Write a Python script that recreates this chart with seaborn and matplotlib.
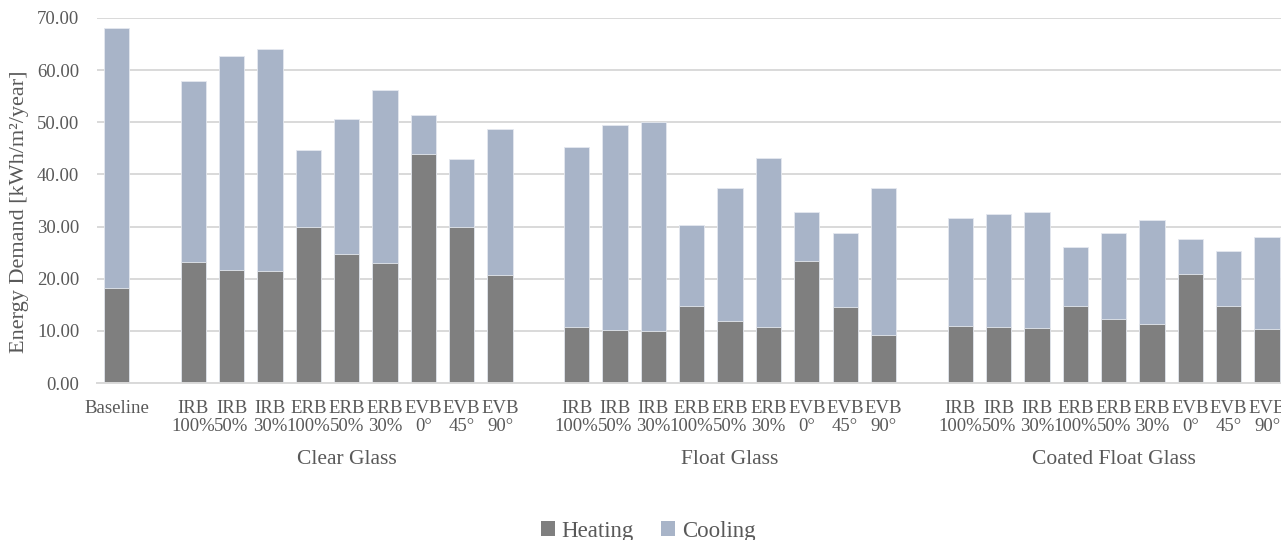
import matplotlib
matplotlib.use("Agg")
import matplotlib.pyplot as plt
from matplotlib.patches import Patch
from matplotlib.ticker import FuncFormatter
import numpy as np
import pandas as pd
import seaborn as sns

# ---- data (kWh/m²/year) ----
glass_types = ["Clear Glass", "Float Glass", "Coated Float Glass"]
configs = ["IRB\n100%", "IRB\n50%", "IRB\n30%", "ERB\n100%", "ERB\n50%",
           "ERB\n30%", "EVB\n0°", "EVB\n45°", "EVB\n90°"]

baseline_heating = 18.3
baseline_cooling = 49.7

heating_clear = [23.2, 21.7, 21.5, 29.9, 24.7, 23.0, 43.9, 29.9, 20.8]
cooling_clear = [34.8, 41.1, 42.6, 14.8, 26.0, 33.1, 7.5, 13.0, 27.9]

heating_float = [10.8, 10.1, 9.9, 14.8, 11.8, 10.8, 23.4, 14.5, 9.3]
cooling_float = [34.4, 39.4, 40.1, 15.5, 25.6, 32.3, 9.3, 14.2, 28.1]

heating_coated = [11.0, 10.8, 10.6, 14.7, 12.3, 11.3, 20.9, 14.7, 10.3]
cooling_coated = [20.7, 21.6, 22.1, 11.3, 16.4, 19.9, 6.7, 10.6, 17.7]

series_labels = ["Heating", "Cooling"]
heat_color = "#7f7f7f"
cool_color = "#a8b4c8"
text_color = "#595959"
grid_color = "#d9d9d9"

# ---- build the long table with a blank slot between groups ----
rows = [{"key": "Baseline", "label": "Baseline",
         "heating": baseline_heating, "cooling": baseline_cooling}]
order = ["Baseline"]
tick_labels = ["Baseline"]
group_centers = []
heat_groups = [heating_clear, heating_float, heating_coated]
cool_groups = [cooling_clear, cooling_float, cooling_coated]
for g, (gname, hv, cv) in enumerate(zip(glass_types, heat_groups, cool_groups)):
    order.append(f"_gap{g}")
    tick_labels.append("")
    start = len(order)
    for cfg, h, c in zip(configs, hv, cv):
        key = f"{gname}|{cfg}"
        rows.append({"key": key, "label": cfg, "heating": h, "cooling": c})
        order.append(key)
        tick_labels.append(cfg)
    group_centers.append((start + len(order) - 1) / 2)

df = pd.DataFrame(rows)
df["total"] = df["heating"] + df["cooling"]

# ---- figure ----
sns.set_theme(style="white")
plt.rcParams["font.family"] = ["Liberation Serif", "DejaVu Serif"]

W, H = 1281, 540
fig = plt.figure(figsize=(W / 100, H / 100), dpi=100)
ax_left, ax_right, ax_bottom, ax_top = 97.3, 1286.2, 157, 522
ax = fig.add_axes([ax_left / W, ax_bottom / H,
                   (ax_right - ax_left) / W, (ax_top - ax_bottom) / H])

bar_kw = dict(order=order, width=0.66, saturation=1, ax=ax,
              edgecolor="#e4e8ef", linewidth=0.6)
sns.barplot(data=df, x="key", y="total", color=cool_color, **bar_kw)
sns.barplot(data=df, x="key", y="heating", color=heat_color, **bar_kw)

ax.set_xlim(-0.5, len(order) - 0.5)
ax.set_ylim(0, 70)
ax.set_yticks(np.arange(0, 71, 10))
ax.yaxis.set_major_formatter(FuncFormatter(lambda v, _: f"{v:.2f}"))
ax.set_xticks(range(len(order)))
ax.set_xticklabels(tick_labels, linespacing=1.1)
ax.set_xlabel("")
ax.set_ylabel("")

ax.tick_params(axis="both", length=0, colors=text_color)
ax.tick_params(axis="x", pad=12, labelsize=13.5)
ax.tick_params(axis="y", pad=13, labelsize=13.5)

ax.yaxis.grid(True, color=grid_color, linewidth=1.4)
ax.set_axisbelow(True)
for side in ["left", "right", "top"]:
    ax.spines[side].set_visible(False)
ax.spines["bottom"].set_color(grid_color)
ax.spines["bottom"].set_linewidth(1.4)
ax.spines["bottom"].set_zorder(3)

# group captions under the tick labels
for name, cx in zip(glass_types, group_centers):
    ax.text(cx, -(459 - 383) / 365, name, transform=ax.get_xaxis_transform(),
            ha="center", va="center", fontsize=15.5, color=text_color)

fig.text(20 / W, 1 - 212 / H, "Energy Demand [kWh/m²/year]", rotation=90,
         ha="center", va="center", fontsize=16, color=text_color)

handles = [Patch(facecolor=heat_color, edgecolor="none"),
           Patch(facecolor=cool_color, edgecolor="none")]
leg = fig.legend(handles, series_labels, loc="center", ncol=2,
                 bbox_to_anchor=(648 / W, 1 - 531 / H), frameon=False,
                 fontsize=16.5, handlelength=0.6, handleheight=0.6,
                 handletextpad=0.3, columnspacing=1.2)
for t in leg.get_texts():
    t.set_color(text_color)

fig.savefig("out.png", dpi=100)
